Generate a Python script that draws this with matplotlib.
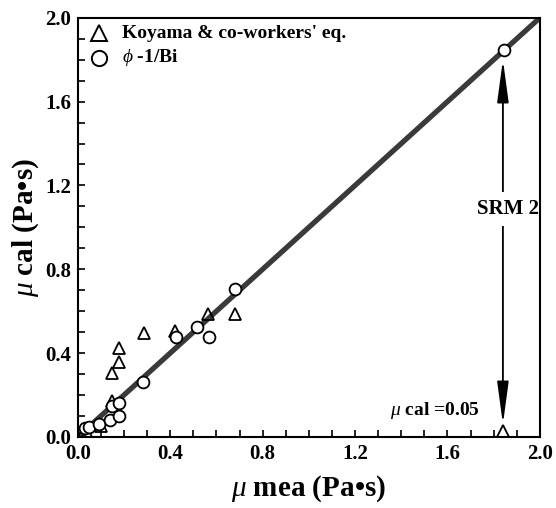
import numpy as np
import matplotlib.pyplot as plt
from matplotlib.ticker import MultipleLocator

plt.rcParams['font.family'] = ['Liberation Serif', 'DejaVu Serif']
plt.rcParams['mathtext.fontset'] = 'custom'
plt.rcParams['mathtext.it'] = 'Liberation Serif:italic'
plt.rcParams['mathtext.rm'] = 'Liberation Serif'

# Koyama & co-workers' eq. (triangles)
tri_mea = [0.02, 0.04, 0.10, 0.146, 0.146, 0.179, 0.179, 0.286, 0.42, 0.564, 0.68, 1.84]
tri_cal = [0.01, 0.02, 0.05, 0.169, 0.304, 0.357, 0.423, 0.498, 0.506, 0.586, 0.586, 0.03]

# phi - 1/Bi (circles)
cir_mea = [0.03, 0.049, 0.091, 0.141, 0.146, 0.179, 0.179, 0.283, 0.424, 0.517, 0.567, 0.68, 1.844]
cir_cal = [0.04, 0.049, 0.062, 0.081, 0.145, 0.100, 0.164, 0.261, 0.476, 0.524, 0.476, 0.706, 1.847]

line_x = [0.0, 2.0]
line_y = [0.0, 2.0]

ticks = [0.0, 0.4, 0.8, 1.2, 1.6, 2.0]
tick_labels = ['0.0', '0.4', '0.8', '1.2', '1.6', '2.0']

fig = plt.figure(figsize=(5.56, 5.08), dpi=100)
ax = fig.add_axes([0.140, 0.140, 0.831, 0.825])

ax.plot(line_x, line_y, color='#3a3a3a', linewidth=3.8, zorder=2, solid_capstyle='butt')
ax.plot(tri_mea, tri_cal, linestyle='none', marker='^', markersize=8.5,
        markerfacecolor='none', markeredgecolor='black', markeredgewidth=1.3, zorder=3)
ax.plot(cir_mea, cir_cal, linestyle='none', marker='o', markersize=8.5,
        markerfacecolor='white', markeredgecolor='black', markeredgewidth=1.3, zorder=4)

# SRM 2 double arrow
ax.annotate('', xy=(1.84, 1.80), xytext=(1.84, 1.09),
            arrowprops=dict(arrowstyle='-|>,head_length=2.6,head_width=0.35',
                            color='black', lw=1.3, shrinkA=0, shrinkB=0), zorder=2.1)
ax.annotate('', xy=(1.84, 0.06), xytext=(1.84, 1.09),
            arrowprops=dict(arrowstyle='-|>,head_length=2.6,head_width=0.35',
                            color='black', lw=1.3, shrinkA=0, shrinkB=0), zorder=2.1)
ax.text(1.86, 1.088, 'SRM 2', ha='center', va='center', fontsize=15, fontweight='bold',
        bbox=dict(facecolor='white', edgecolor='none', pad=5), zorder=2.3)
ax.text(1.74, 0.125, r'$\mu$ cal =0.05', ha='right', va='center', fontsize=14, fontweight='bold')

# legend drawn by hand
ax.plot([0.09], [1.925], marker='^', markersize=12, markerfacecolor='none',
        markeredgecolor='black', markeredgewidth=1.4, linestyle='none')
ax.plot([0.09], [1.81], marker='o', markersize=11, markerfacecolor='none',
        markeredgecolor='black', markeredgewidth=1.4, linestyle='none')
ax.text(0.19, 1.925, "Koyama & co-workers' eq.", ha='left', va='center', fontsize=14, fontweight='bold')
ax.text(0.19, 1.81, r"$\phi$ -1/Bi", ha='left', va='center', fontsize=14, fontweight='bold')

ax.set_xlim(0, 2.0)
ax.set_ylim(0, 2.0)
ax.set_xticks(ticks)
ax.set_xticklabels(tick_labels)
ax.set_yticks(ticks)
ax.set_yticklabels(tick_labels)
ax.xaxis.set_minor_locator(MultipleLocator(0.1))
ax.yaxis.set_minor_locator(MultipleLocator(0.1))
ax.tick_params(which='both', direction='in', length=5, width=1.2, top=False, right=False)
ax.tick_params(labelsize=15, pad=5)
for lab in ax.get_xticklabels() + ax.get_yticklabels():
    lab.set_fontweight('bold')
for sp in ax.spines.values():
    sp.set_linewidth(1.5)
    sp.set_zorder(5)

ax.set_xlabel(r'$\mu$ mea (Pa•s)', fontsize=21, fontweight='bold', labelpad=7)
ax.set_ylabel(r'$\mu$ cal (Pa•s)', fontsize=21, fontweight='bold', labelpad=3)

fig.savefig('out.png', dpi=100)
